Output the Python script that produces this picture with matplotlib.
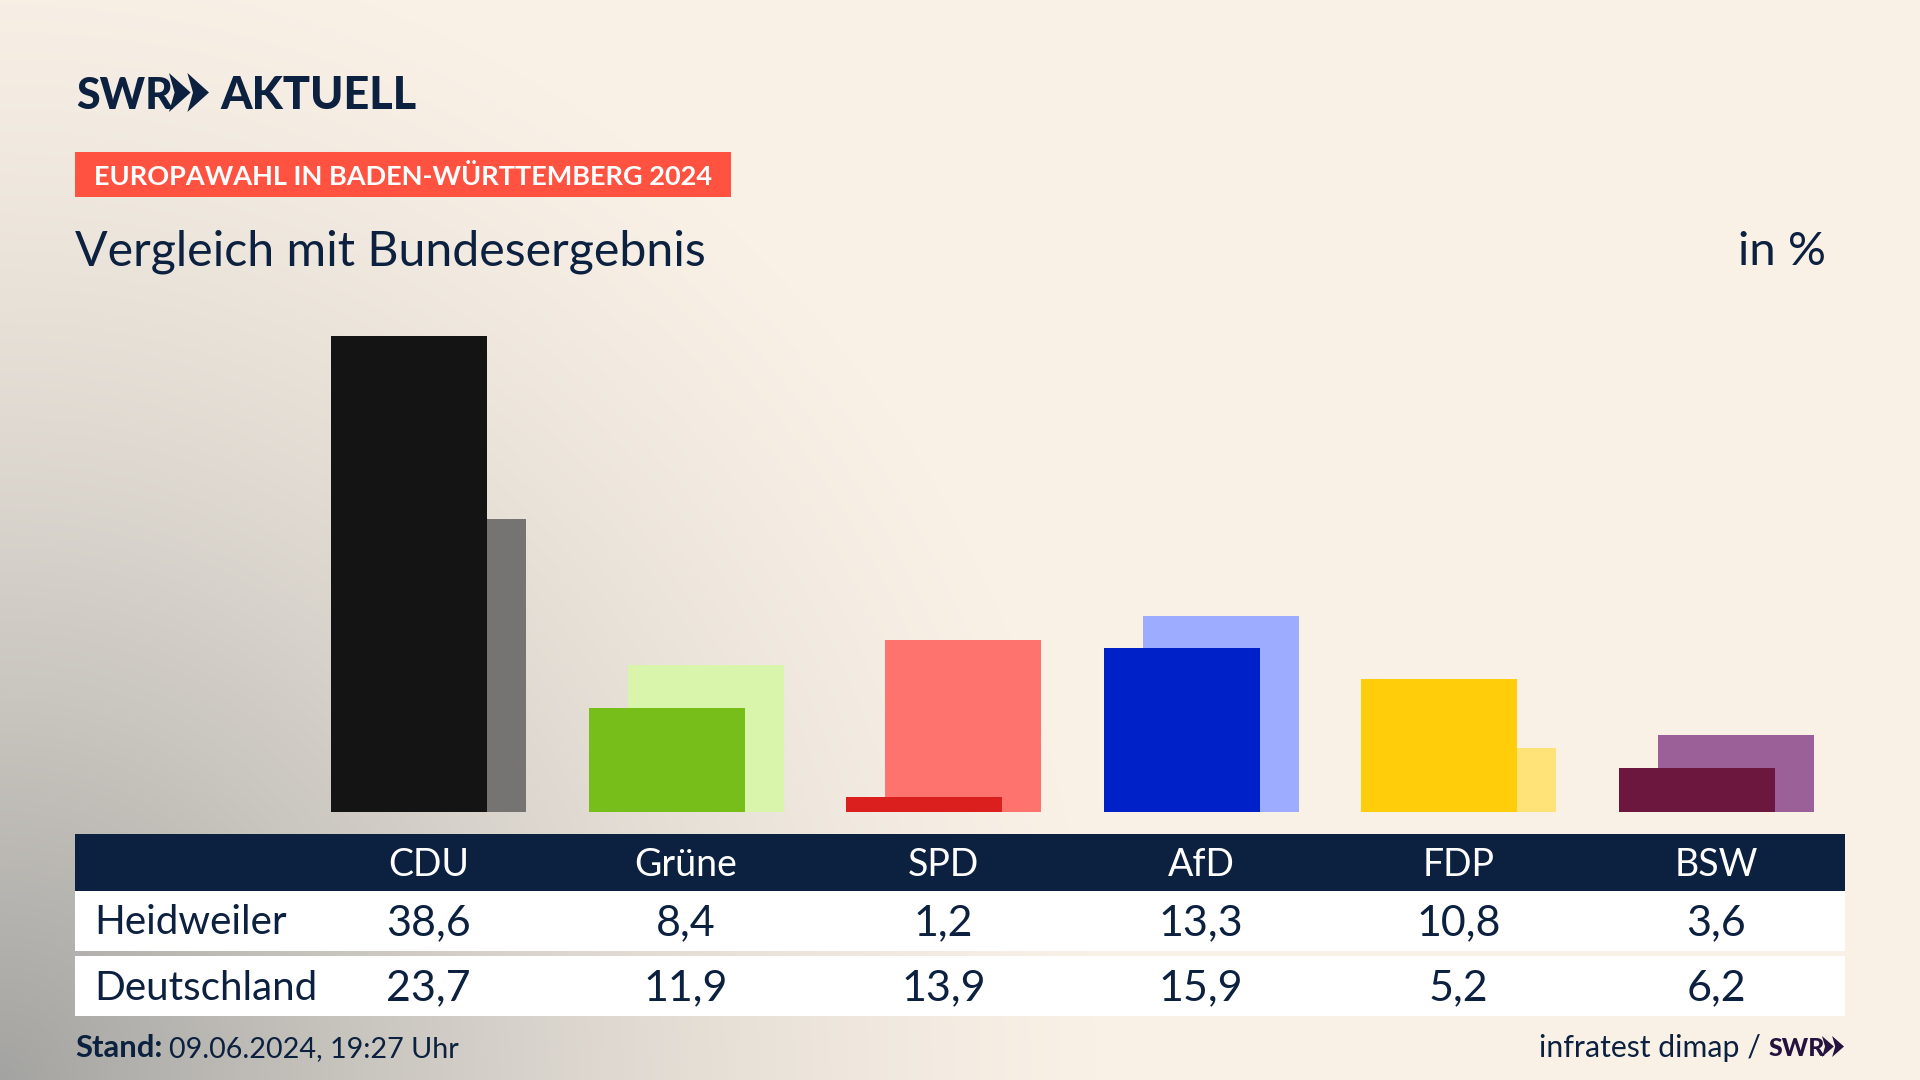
import numpy as np
from matplotlib import pyplot as plt
from matplotlib.patches import Rectangle, Polygon

# data
parteien = ['CDU', 'Grüne', 'SPD', 'AfD', 'FDP', 'BSW']
heidweiler = [38.6, 8.4, 1.2, 13.3, 10.8, 3.6]
deutschland = [23.7, 11.9, 13.9, 15.9, 5.2, 6.2]
farben_ort = ['#141414', '#78BE1A', '#DB1F1F', '#0020C8', '#FFCD0A', '#6B173E']
farben_bund = ['#757473', '#D8F5AB', '#FF736E', '#9DACFF', '#FFE278', '#9C6098']
zeilen = ['Heidweiler', 'Deutschland']

W, H = 1920, 1080
NAVY = '#0C203F'
FONT = 'Lato'
PT = 0.72  # px -> pt at dpi 100

fig = plt.figure(figsize=(19.2, 10.8), dpi=100)

# background
bg = fig.add_axes([0, 0, 1, 1], zorder=0)
yy, xx = np.mgrid[0:H, 0:W]
d = np.sqrt((xx / 1150.0) ** 2 + ((H - yy) / 1200.0) ** 2)
t = 1 - (1 - np.clip(d, 0, 1)) ** 1.5
t = t[..., None]
grau = np.array([0.64, 0.64, 0.63])
creme = np.array([0.98, 0.947, 0.905])
bg.imshow(grau + (creme - grau) * t, extent=(0, W, H, 0), aspect='auto')
bg.set_xlim(0, W)
bg.set_ylim(H, 0)
bg.axis('off')

# bars
spalte0 = 428.6
abstand = 257.5
links, rechts = 75, 1845
unten, oben = 812, 335.5
ax = fig.add_axes([links / W, 1 - unten / H, (rechts - links) / W, (unten - oben) / H], zorder=1)
ax.patch.set_alpha(0)
x = np.arange(len(parteien))
breite = 156 / abstand
versatz = 19.5 / abstand
ax.bar(x + versatz, deutschland, breite, color=farben_bund, zorder=1)
ax.bar(x - versatz, heidweiler, breite, color=farben_ort, zorder=2)
ax.set_xlim((links - spalte0) / abstand, (rechts - spalte0) / abstand)
ax.set_ylim(0, 38.6)
ax.axis('off')

# everything else in pixel coordinates
ov = fig.add_axes([0, 0, 1, 1], zorder=2)
ov.patch.set_alpha(0)
ov.set_xlim(0, W)
ov.set_ylim(H, 0)
ov.axis('off')


def txt(px, py, s, size, weight='normal', color=NAVY, ha='left'):
    return ov.text(px, py, s, fontsize=size * PT, fontweight=weight, color=color,
                   ha=ha, va='baseline', family=FONT)


def chevrons(px, top, w, h, color):
    for i in range(2):
        x0 = px + i * w * 0.46
        ov.add_patch(Polygon([[x0, top], [x0 + w * 0.54, top + h / 2], [x0, top + h],
                              [x0 + w * 0.14, top + h / 2]], closed=True, fc=color, ec='none'))


# logo
txt(76, 109, 'SWR', 43, 'black')
chevrons(169, 73, 40, 39, NAVY)
txt(220, 109, 'AKTUELL', 45, 'black')

# header
ov.add_patch(Rectangle((75, 152), 656, 45, fc='#FF5240', ec='none'))
txt(94, 185, 'EUROPAWAHL IN BADEN-WÜRTTEMBERG 2024', 27.1, 'bold', 'white')
txt(75, 265, 'Vergleich mit Bundesergebnis', 48.2)
txt(1826, 265, 'in %', 47.5, ha='right')

# table
ov.add_patch(Rectangle((75, 834), 1770, 57, fc=NAVY, ec='none'))
ov.add_patch(Rectangle((75, 891), 1770, 60, fc='white', ec='none'))
ov.add_patch(Rectangle((75, 956), 1770, 60, fc='white', ec='none'))
for i, p in enumerate(parteien):
    cx = spalte0 + i * abstand
    txt(cx, 876, p, 37.5, color='white', ha='center')
    txt(cx, 935, f'{heidweiler[i]:.1f}'.replace('.', ','), 43, ha='center')
    txt(cx, 1000, f'{deutschland[i]:.1f}'.replace('.', ','), 43, ha='center')
txt(94, 934, zeilen[0], 40.4)
txt(94, 1000, zeilen[1], 40.4)

# footer
txt(75, 1057, 'Stand:', 31, 'bold')
txt(169, 1057, '09.06.2024, 19:27 Uhr', 28.7)
txt(1539, 1057, 'infratest dimap /', 30.2)
txt(1769, 1056, 'SWR', 25, 'black', '#26123F')
chevrons(1822, 1036, 22, 21, '#26123F')

fig.savefig('out.png', dpi=100)
